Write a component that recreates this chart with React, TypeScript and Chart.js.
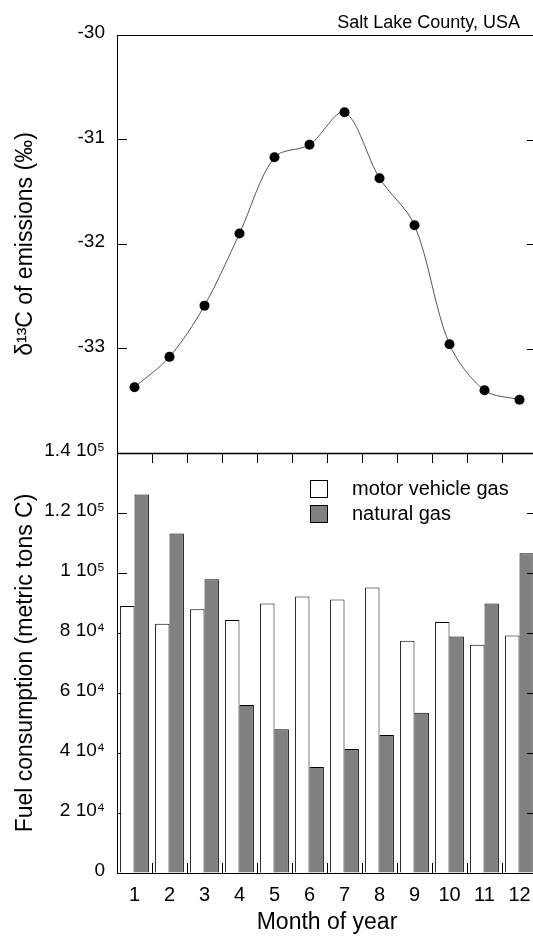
import React, { useEffect, useRef } from 'react';
import { Chart, registerables } from 'chart.js';

Chart.register(...registerables);
Chart.defaults.font.family = '"Liberation Sans", Arial, Helvetica, sans-serif';
Chart.defaults.color = '#000';

// ---- data ----
const months = ['1', '2', '3', '4', '5', '6', '7', '8', '9', '10', '11', '12'];
const delta13C = [-33.37, -33.08, -32.59, -31.9, -31.17, -31.05, -30.74, -31.37, -31.82, -32.96, -33.4, -33.49];
const motorVehicleGas = [89000, 83100, 87900, 84300, 89800, 92200, 91200, 95200, 77400, 83700, 76100, 79200];
const naturalGas = [126200, 113200, 97900, 56000, 47900, 35300, 41300, 46000, 53400, 78800, 89800, 106600];
const deltaTickValues = [-30, -31, -32, -33];
const fuelTickValues = [0, 20000, 40000, 60000, 80000, 100000, 120000, 140000];
const fuelTickLabels = ['0', '2 10⁴', '4 10⁴', '6 10⁴', '8 10⁴', '1 10⁵', '1.2 10⁵', '1.4 10⁵'];
const seriesNames = ['motor vehicle gas', 'natural gas'];
const seriesColors = ['#ffffff', '#808080'];
const panelNote = 'Salt Lake County, USA';

const FONT = '"Liberation Sans", Arial, Helvetica, sans-serif';
const W = 533;

// the plot frame of the original runs a few pixels past the cropped right edge
const extendRight = {
  id: 'extendRight',
  afterLayout(chart: any) {
    const extra = 4;
    const ca = chart.chartArea;
    ca.right += extra;
    ca.width += extra;
    Object.values(chart.scales).forEach((s: any) => {
      if (s.isHorizontal()) {
        s.right += extra;
        s.width += extra;
        s.configure();
      }
    });
  },
};

function drawRightTicks(chart: any, ctx: CanvasRenderingContext2D) {
  const a = chart.chartArea;
  const y = chart.scales.y;
  y.ticks.forEach((_t: any, i: number) => {
    const py = Math.round(y.getPixelForTick(i)) + 0.5;
    ctx.moveTo(a.right - 10, py);
    ctx.lineTo(a.right, py);
  });
}

const topFrame = {
  id: 'topFrame',
  afterDraw(chart: any) {
    const ctx = chart.ctx as CanvasRenderingContext2D;
    const a = chart.chartArea;
    ctx.save();
    ctx.strokeStyle = '#000';
    ctx.lineWidth = 1;
    ctx.beginPath();
    ctx.moveTo(a.left, a.top + 0.5);
    ctx.lineTo(a.right, a.top + 0.5);
    ctx.moveTo(a.right - 0.5, a.top);
    ctx.lineTo(a.right - 0.5, a.bottom);
    drawRightTicks(chart, ctx);
    ctx.stroke();
    ctx.fillStyle = '#000';
    ctx.font = `18px ${FONT}`;
    ctx.textAlign = 'right';
    ctx.textBaseline = 'alphabetic';
    ctx.fillText(panelNote, a.right - 17, a.top - 7);
    ctx.restore();
  },
};

const bottomFrame = {
  id: 'bottomFrame',
  afterDraw(chart: any) {
    const ctx = chart.ctx as CanvasRenderingContext2D;
    const a = chart.chartArea;
    const x = chart.scales.x;
    ctx.save();
    ctx.strokeStyle = '#000';
    ctx.lineWidth = 1.5;
    ctx.beginPath();
    ctx.moveTo(a.left, a.top + 0.5);
    ctx.lineTo(a.right, a.top + 0.5);
    ctx.stroke();
    ctx.lineWidth = 1;
    ctx.beginPath();
    ctx.moveTo(a.right - 0.5, a.top);
    ctx.lineTo(a.right - 0.5, a.bottom);
    drawRightTicks(chart, ctx);
    for (let i = 0; i < months.length - 1; i++) {
      const px = Math.round(x.getPixelForValue(i + 0.5)) + 0.5;
      ctx.moveTo(px, a.top);
      ctx.lineTo(px, a.top + 10);
    }
    ctx.stroke();
    // legend
    const bx = a.left + 193;
    seriesNames.forEach((name, i) => {
      const by = a.top + 27 + i * 25;
      ctx.fillStyle = seriesColors[i];
      ctx.fillRect(bx, by, 18, 18);
      ctx.strokeStyle = '#000';
      ctx.lineWidth = 1;
      ctx.strokeRect(bx + 0.5, by + 0.5, 17, 17);
      ctx.fillStyle = '#000';
      ctx.font = `20px ${FONT}`;
      ctx.textAlign = 'left';
      ctx.textBaseline = 'middle';
      ctx.fillText(name, bx + 42, by + 9);
    });
    ctx.restore();
  },
};

const TOP_H = 493; // chart area bottom at 453
const BOT_TOP = 413; // chart area top at 453
const BOT_H = 937 - BOT_TOP;

export default function App() {
  const topRef = useRef<HTMLCanvasElement>(null);
  const botRef = useRef<HTMLCanvasElement>(null);

  useEffect(() => {
    const top = new Chart(topRef.current as HTMLCanvasElement, {
      type: 'line',
      data: {
        labels: months,
        datasets: [
          {
            label: 'δ13C',
            data: delta13C,
            borderColor: '#555',
            borderWidth: 1,
            pointRadius: 5,
            pointBackgroundColor: '#000',
            pointBorderColor: '#000',
            pointBorderWidth: 0,
            tension: 0.32,
            fill: false,
            clip: false,
          },
        ],
      },
      options: {
        responsive: false,
        animation: false,
        devicePixelRatio: 1,
        layout: { autoPadding: false, padding: { top: 35, right: 0, bottom: 40, left: 0 } },
        plugins: { legend: { display: false }, tooltip: { enabled: false } },
        scales: {
          x: { type: 'category', offset: true, display: false },
          y: {
            min: -34,
            max: -30,
            ticks: {
              stepSize: 1,
              color: '#000',
              font: { size: 19 },
              padding: 22,
              labelOffset: -2,
              callback: (v: any) => (deltaTickValues.includes(Number(v)) ? String(v) : ''),
            },
            grid: { drawOnChartArea: false, tickLength: -10, color: '#000', tickColor: '#000' },
            border: { display: true, color: '#000', width: 1 },
            title: {
              display: true,
              text: 'δ¹³C of emissions (‰)',
              color: '#000',
              font: { size: 23 },
              padding: { top: 12, bottom: 0 },
            },
            afterFit: (s: any) => {
              s.width = 117;
            },
          },
        },
      },
      plugins: [extendRight, topFrame],
    } as any);

    const bot = new Chart(botRef.current as HTMLCanvasElement, {
      type: 'bar',
      data: {
        labels: months,
        datasets: [
          {
            label: seriesNames[0],
            data: motorVehicleGas,
            backgroundColor: seriesColors[0],
            borderColor: '#000',
            borderWidth: 1,
            categoryPercentage: 0.823,
            barPercentage: 1,
          },
          {
            label: seriesNames[1],
            data: naturalGas,
            backgroundColor: seriesColors[1],
            borderColor: '#000',
            borderWidth: 1,
            categoryPercentage: 0.823,
            barPercentage: 1,
          },
        ],
      },
      options: {
        responsive: false,
        animation: false,
        devicePixelRatio: 1,
        layout: { autoPadding: false, padding: { top: 40, right: 0, bottom: 0, left: 0 } },
        plugins: { legend: { display: false }, tooltip: { enabled: false } },
        scales: {
          x: {
            type: 'category',
            offset: true,
            ticks: {
              color: '#000',
              font: { size: 20, lineHeight: 3.2 },
              padding: 0,
              maxRotation: 0,
              autoSkip: false,
            },
            grid: { offset: true, drawOnChartArea: false, tickLength: -10, color: '#000', tickColor: '#000' },
            border: { display: true, color: '#000', width: 1 },
            title: {
              display: true,
              text: 'Month of year',
              color: '#000',
              font: { size: 23 },
              padding: { top: 0, bottom: 1 },
            },
            afterFit: (s: any) => {
              s.height = 64;
            },
          },
          y: {
            min: 0,
            max: 140000,
            ticks: {
              stepSize: 20000,
              color: '#000',
              font: { size: 19 },
              padding: 22,
              labelOffset: -2,
              callback: (v: any) => {
                const i = fuelTickValues.indexOf(Number(v));
                return i >= 0 ? fuelTickLabels[i] : '';
              },
            },
            grid: { drawOnChartArea: false, tickLength: -10, color: '#000', tickColor: '#000' },
            border: { display: true, color: '#000', width: 1 },
            title: {
              display: true,
              text: 'Fuel consumption (metric tons C)',
              color: '#000',
              font: { size: 23 },
              padding: { top: 12, bottom: 0 },
            },
            afterFit: (s: any) => {
              s.width = 117;
            },
          },
        },
      },
      plugins: [extendRight, bottomFrame],
    } as any);

    return () => {
      top.destroy();
      bot.destroy();
    };
  }, []);

  return (
    <div
      style={{
        position: 'absolute',
        left: 0,
        top: 0,
        width: W,
        height: 937,
        overflow: 'hidden',
        background: '#fff',
      }}
    >
      <canvas
        ref={topRef}
        width={W}
        height={TOP_H}
        style={{ position: 'absolute', left: 0, top: 0, width: W, height: TOP_H }}
      />
      <canvas
        ref={botRef}
        width={W}
        height={BOT_H}
        style={{ position: 'absolute', left: 0, top: BOT_TOP, width: W, height: BOT_H }}
      />
    </div>
  );
}
